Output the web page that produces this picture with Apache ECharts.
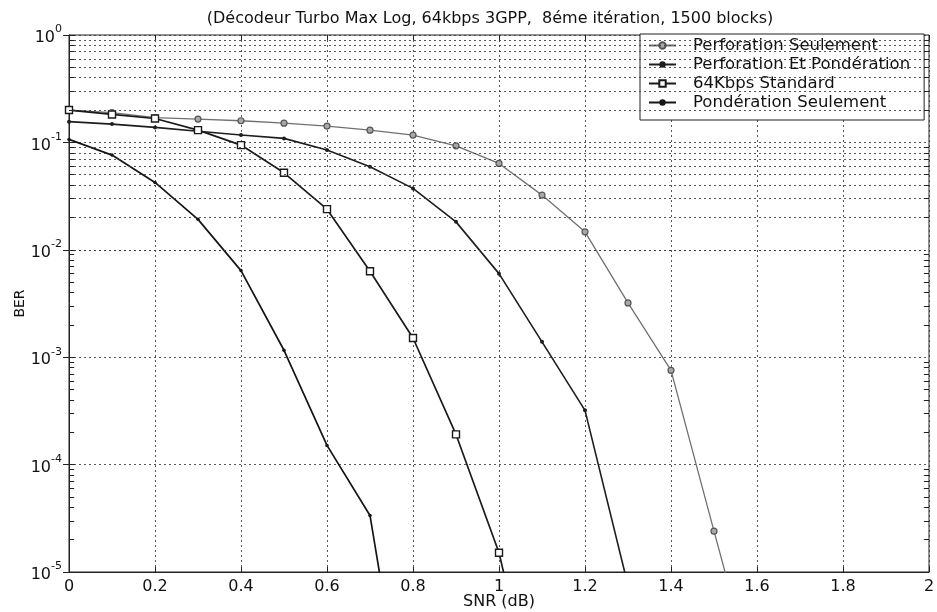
<!DOCTYPE html>
<html>
<head>
<meta charset="utf-8">
<script src="https://cdn.jsdelivr.net/npm/echarts@6/dist/echarts.min.js"></script>
<style>
  html, body { margin: 0; padding: 0; background: #ffffff; }
  #chart { width: 937px; height: 612px; }
</style>
</head>
<body>
<div id="chart"></div>
<script>
// SNR steps (dB) shared by every curve; each BER list follows them in order.
const snrSteps = [0, 0.1, 0.2, 0.3, 0.4, 0.5, 0.6, 0.7, 0.8, 0.9, 1.0, 1.1, 1.2, 1.3, 1.4, 1.5, 1.6];

// Bit error rate per curve
const berPerforationSeulement = [0.200, 0.189, 0.170, 0.165, 0.159, 0.151, 0.142, 0.130, 0.117, 0.093,
                                 0.0637, 0.0323, 0.0147, 0.0032, 7.55e-4, 2.4e-5, 8e-7];
const berPerforationEtPonderation = [0.156, 0.148, 0.138, 0.127, 0.117, 0.109, 0.0848, 0.0593, 0.0373, 0.0182,
                                     0.0060, 1.39e-3, 3.2e-4, 7.5e-6];
const berStandard64k = [0.200, 0.182, 0.167, 0.130, 0.0944, 0.0521, 0.0239, 6.32e-3, 1.51e-3, 1.91e-4,
                        1.51e-5, 3e-7];
const berPonderationSeulement = [0.1066, 0.0762, 0.0424, 0.0192, 6.4e-3, 1.16e-3, 1.51e-4, 3.36e-5, 1.3e-7];

const seriesNames = ['Perforation Seulement', 'Perforation Et Pondération', '64Kbps Standard', 'Pondération Seulement'];

// Axis tick labels
const xTickLabels = ['0', '0.2', '0.4', '0.6', '0.8', '1', '1.2', '1.4', '1.6', '1.8', '2'];
const yTickExponents = ['-5', '-4', '-3', '-2', '-1', '0'];

const titleText = '(Décodeur Turbo Max Log, 64kbps 3GPP,  8éme itération, 1500 blocks)';

function pairs(values) {
  return values.map((v, i) => [snrSteps[i], v]);
}

// Dotted minor grid at 2..9 x 10^d for every decade shown
const minorValues = [];
for (let d = -5; d <= -1; d++) {
  for (let k = 2; k <= 9; k++) minorValues.push(k * Math.pow(10, d));
}
const gridStyle = { color: '#3a3a3a', type: [2, 3], width: 1, opacity: 0.85 };
const minorLines = minorValues.map(v => ({ yAxis: v }));
// short inward ticks on both vertical edges of the frame
const edgeTicks = [];
minorValues.forEach(v => {
  edgeTicks.push([{ coord: [0, v] }, { coord: [0.012, v] }]);
  edgeTicks.push([{ coord: [1.988, v] }, { coord: [2, v] }]);
});

const FONT = 'DejaVu Sans';
const chart = echarts.init(document.getElementById('chart'), null, { renderer: 'canvas' });

const option = {
  animation: false,
  backgroundColor: '#ffffff',
  textStyle: { fontFamily: FONT, color: '#111' },
  graphic: [{
    type: 'text',
    x: 490, y: 19,
    style: {
      text: titleText,
      font: '16px "DejaVu Sans"',
      fill: '#111',
      align: 'center',
      verticalAlign: 'middle'
    }
  }],
  grid: {
    left: 69, right: 8, top: 35, bottom: 40,
    outerBoundsMode: 'none',
    containLabel: false,
    show: true, borderColor: '#222', borderWidth: 1, backgroundColor: 'transparent'
  },
  legend: {
    data: seriesNames,
    orient: 'vertical',
    left: 640, top: 34,
    padding: [2, 14, 8, 8],
    itemGap: 0,
    itemWidth: 27,
    itemHeight: 8,
    backgroundColor: '#ffffff',
    borderColor: '#222',
    borderWidth: 1,
    borderRadius: 0,
    textStyle: { fontFamily: FONT, fontSize: 16.5, lineHeight: 19, color: '#111', padding: [0, 0, 0, 12] }
  },
  xAxis: [{
    type: 'value',
    min: 0, max: 2, interval: 0.2,
    name: 'SNR (dB)',
    nameLocation: 'middle',
    nameGap: 22,
    nameMoveOverlap: false,
    nameTextStyle: { fontFamily: FONT, fontSize: 16, color: '#111' },
    axisLine: { show: true, onZero: false, lineStyle: { color: '#222', width: 1 } },
    axisTick: { show: true, inside: true, length: 5, lineStyle: { color: '#222' } },
    axisLabel: {
      margin: 7, fontFamily: FONT, fontSize: 16, color: '#111',
      formatter: v => xTickLabels[Math.round(v / 0.2)]
    },
    splitLine: { show: true, lineStyle: gridStyle }
  }, {
    type: 'value', position: 'top',
    min: 0, max: 2, interval: 0.2,
    axisLine: { show: false },
    axisTick: { show: true, inside: true, length: 5, lineStyle: { color: '#222' } },
    axisLabel: { show: false },
    splitLine: { show: false }
  }],
  yAxis: [{
    type: 'log',
    logBase: 10,
    min: 1e-5, max: 1,
    name: 'BER',
    nameLocation: 'middle',
    nameGap: 42,
    nameMoveOverlap: false,
    nameTextStyle: { fontFamily: FONT, fontSize: 14, color: '#111' },
    axisLine: { show: true, onZero: false, lineStyle: { color: '#222', width: 1 } },
    axisTick: { show: true, inside: true, length: 6, lineStyle: { color: '#222' } },
    axisLabel: {
      margin: 7,
      formatter: v => {
        const e = Math.round(Math.log10(v));
        return '{b|10}{s|' + yTickExponents[e + 5] + '}';
      },
      rich: {
        b: { fontFamily: FONT, fontSize: 16, color: '#111', lineHeight: 22, verticalAlign: 'bottom' },
        s: { fontFamily: FONT, fontSize: 11, color: '#111', verticalAlign: 'top' }
      }
    },
    splitLine: { show: true, lineStyle: gridStyle }
  }, {
    type: 'log', logBase: 10, position: 'right',
    min: 1e-5, max: 1,
    axisLine: { show: false },
    axisTick: { show: true, inside: true, length: 6, lineStyle: { color: '#222' } },
    axisLabel: { show: false },
    splitLine: { show: false }
  }],
  series: [
    {
      name: 'minor-grid',
      type: 'line',
      data: [],
      z: 1,
      silent: true,
      markLine: {
        silent: true,
        symbol: ['none', 'none'],
        label: { show: false },
        lineStyle: gridStyle,
        emphasis: { disabled: true },
        data: minorLines
      }
    },
    {
      name: 'edge-ticks',
      type: 'line',
      data: [],
      z: 1,
      silent: true,
      markLine: {
        silent: true,
        symbol: ['none', 'none'],
        label: { show: false },
        lineStyle: { color: '#222', type: 'solid', width: 1 },
        emphasis: { disabled: true },
        data: edgeTicks
      }
    },
    {
      name: seriesNames[0],
      type: 'line',
      data: pairs(berPerforationSeulement),
      z: 3,
      clip: true,
      symbol: 'circle',
      symbolSize: 6,
      lineStyle: { color: '#707070', width: 1.3 },
      itemStyle: { color: '#a8a8a8', borderColor: '#555', borderWidth: 1.2 }
    },
    {
      name: seriesNames[1],
      type: 'line',
      data: pairs(berPerforationEtPonderation),
      z: 3,
      clip: true,
      symbol: 'circle',
      symbolSize: 4,
      lineStyle: { color: '#1e1e1e', width: 1.6 },
      itemStyle: { color: '#1e1e1e' }
    },
    {
      name: seriesNames[2],
      type: 'line',
      data: pairs(berStandard64k),
      z: 4,
      clip: true,
      symbol: 'rect',
      symbolSize: 7,
      lineStyle: { color: '#1a1a1a', width: 1.7 },
      itemStyle: { color: '#ffffff', borderColor: '#1a1a1a', borderWidth: 1.4 }
    },
    {
      name: seriesNames[3],
      type: 'line',
      data: pairs(berPonderationSeulement),
      z: 3,
      clip: true,
      symbol: 'circle',
      symbolSize: 3.5,
      lineStyle: { color: '#151515', width: 1.7 },
      itemStyle: { color: '#151515' }
    }
  ]
};

chart.setOption(option);
</script>
</body>
</html>
